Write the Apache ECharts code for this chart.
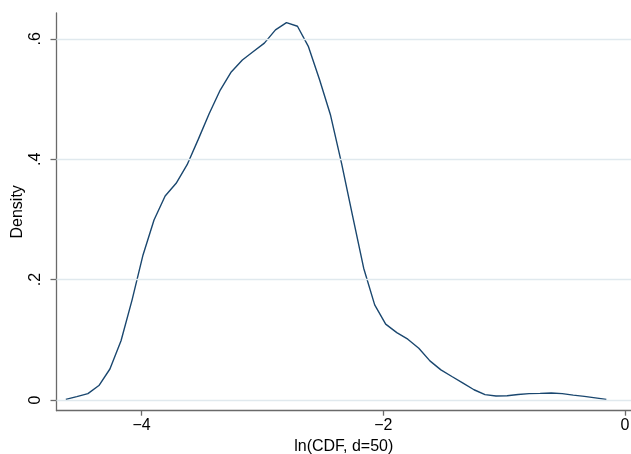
<!DOCTYPE html>
<html>
<head>
<meta charset="utf-8">
<script src="https://cdn.jsdelivr.net/npm/echarts@6/dist/echarts.min.js"></script>
<style>
  html, body { margin: 0; padding: 0; background: #fff; }
  #chart { width: 631px; height: 454px; }
</style>
</head>
<body>
<div id="chart"></div>
<script>
// kernel density of ln(CDF, d=50)
const xValues = [
  -4.627, -4.536, -4.444, -4.353, -4.262, -4.170, -4.079, -3.988, -3.897, -3.805,
  -3.714, -3.623, -3.531, -3.440, -3.349, -3.258, -3.166, -3.075, -2.984, -2.892,
  -2.801, -2.710, -2.619, -2.527, -2.436, -2.345, -2.253, -2.162, -2.071, -1.980,
  -1.888, -1.797, -1.706, -1.614, -1.523, -1.432, -1.340, -1.249, -1.158, -1.067,
  -0.975, -0.884, -0.793, -0.702, -0.610, -0.519, -0.428, -0.336, -0.245, -0.154
]
const densityValues = [
  0.001, 0.0055, 0.0105, 0.024, 0.0515, 0.0985, 0.166, 0.241, 0.299, 0.339,
  0.360, 0.391, 0.433, 0.476, 0.515, 0.545, 0.565, 0.579, 0.593, 0.615,
  0.627, 0.621, 0.587, 0.532, 0.473, 0.393, 0.305, 0.219, 0.158, 0.126,
  0.112, 0.101, 0.086, 0.065, 0.050, 0.039, 0.028, 0.017, 0.009, 0.0066,
  0.007, 0.009, 0.0105, 0.011, 0.0116, 0.0105, 0.008, 0.006, 0.0035, 0.001
]
const xTicks = [-4, -2, 0]
const yTicks = [0, 0.2, 0.4, 0.6]

const font = 'Liberation Sans, Arial, Helvetica, sans-serif'
const axisGray = '#6a6a6a'

const fmtX = v => String(v).replace('-', '\u2212')
const fmtY = v => (v === 0 ? '0' : String(v).replace('0.', '.'))

const chart = echarts.init(document.getElementById('chart'), null, { renderer: 'canvas' })

chart.setOption({
  animation: false,
  backgroundColor: '#fff',
  grid: {
    left: 56.5, right: 0, top: 13, bottom: 43.3,
    containLabel: false,
    outerBoundsMode: 'none'
  },
  xAxis: {
    type: 'value',
    min: -4.704,
    max: 0.05,
    name: 'ln(CDF, d=50)',
    nameLocation: 'middle',
    nameGap: 28,
    nameTextStyle: { fontFamily: font, fontSize: 16, color: '#000' },
    axisLine: { show: true, onZero: false, lineStyle: { color: axisGray, width: 1.3 } },
    axisTick: { show: true, length: 5, lineStyle: { color: axisGray, width: 1.3 }, customValues: xTicks },
    axisLabel: { fontFamily: font, fontSize: 16, color: '#000', margin: 7, customValues: xTicks, formatter: fmtX },
    splitLine: { show: false }
  },
  yAxis: {
    type: 'value',
    min: -0.0178,
    max: 0.643,
    name: 'Density',
    nameLocation: 'middle',
    nameGap: 31,
    nameRotate: 90,
    nameMoveOverlap: false,
    nameTextStyle: { fontFamily: font, fontSize: 16, color: '#000' },
    axisLine: { show: true, onZero: false, lineStyle: { color: axisGray, width: 1.3 } },
    axisTick: { show: true, length: 6, lineStyle: { color: axisGray, width: 1.3 }, customValues: yTicks },
    axisLabel: { fontFamily: font, fontSize: 16, color: '#000', margin: 13, rotate: 90, customValues: yTicks, formatter: fmtY },
    splitLine: { show: false }
  },
  series: [
    {
      // grid lines at the labelled ticks
      type: 'line',
      data: [],
      silent: true,
      z: 1,
      markLine: {
        silent: true,
        symbol: 'none',
        label: { show: false },
        lineStyle: { color: '#e0e9ee', width: 1.3, type: 'solid' },
        data: yTicks.map(v => ({ yAxis: v }))
      }
    },
    {
      name: 'Density',
      type: 'line',
      z: 3,
      data: xValues.map((x, i) => [x, densityValues[i]]),
      showSymbol: false,
      smooth: false,
      lineStyle: { color: '#1a476f', width: 1.4 }
    }
  ]
})
</script>
</body>
</html>
